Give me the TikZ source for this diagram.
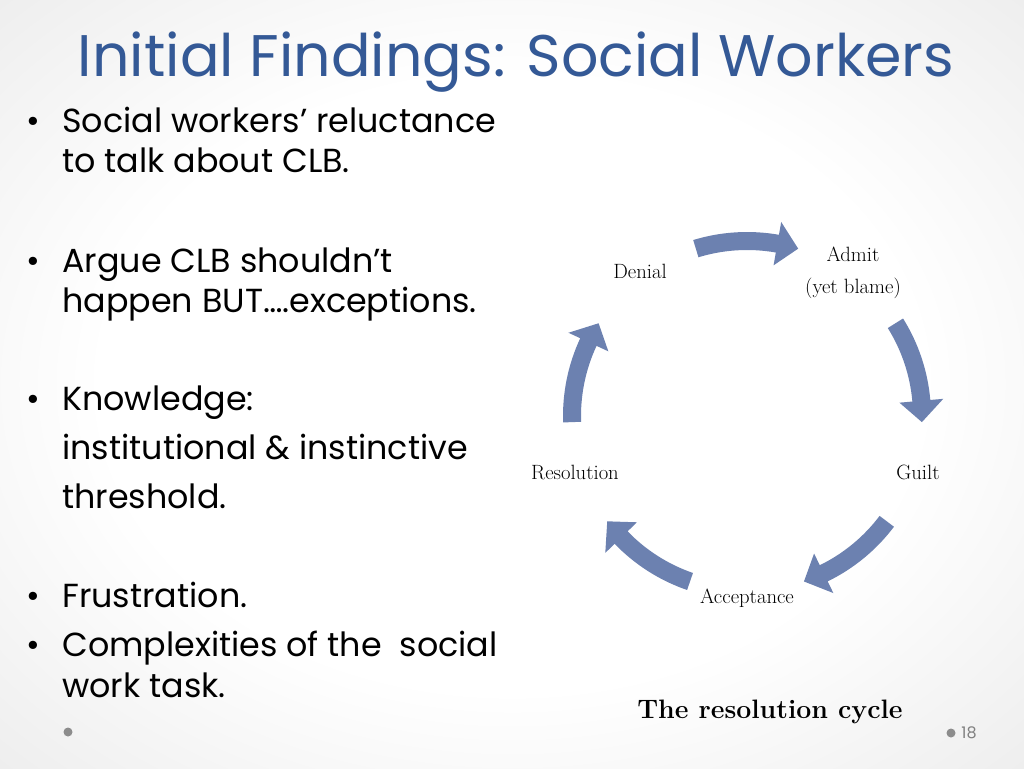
\documentclass[tikz,border=0pt]{standalone}
\usepackage{fontspec}
\newfontfamily\gothic{Poppins}
\usetikzlibrary{positioning}

\definecolor{titleblue}{RGB}{52,89,150}
\definecolor{cyclearrow}{RGB}{108,129,176}
\pgfdeclareradialshading{slideglow}{\pgfpoint{0bp}{0bp}}{color(0bp)=(white); color(20bp)=(white); color(50bp)=(black!13); color(72bp)=(black!21)}

\begin{document}
\begin{tikzpicture}[x=0.75pt,y=-0.75pt,inner sep=0pt]
  \tikzstyle{title}=[anchor=base,font=\gothic\fontsize{44}{44}\selectfont,text=titleblue]
  \tikzstyle{item}=[anchor=base west,font=\gothic\fontsize{25}{25}\selectfont]
  \tikzstyle{stage}=[font=\fontsize{15.5}{15.5}\selectfont]

  \useasboundingbox (0,0) rectangle (1024,768);
  \shade[shading=slideglow] (0,0) rectangle (1024,768);

  \node[title] (title) at (516,76) {Initial Findings: Social Workers};

  \node[item] (b1a) at (62,132) {Social workers’ reluctance};
  \node[item] (b1b) at (62,172) {to talk about CLB.};
  \node[item] (b2a) at (62,272) {Argue CLB shouldn’t};
  \node[item] (b2b) at (62,312) {happen BUT….exceptions.};
  \node[item] (b3a) at (62,410) {Knowledge:};
  \node[item] (b3b) at (62,459) {institutional \& instinctive};
  \node[item] (b3c) at (62,508) {threshold.};
  \node[item] (b4a) at (62,607) {Frustration.};
  \node[item] (b5a) at (62,656) {Complexities of the\ \ social};
  \node[item] (b5b) at (62,697) {work task.};
  \foreach \n in {b1a,b2a,b3a,b4a,b5a}
    \node[item] (dot\n) at ([xshift=-27pt]\n.base west) {•};

  % the cycle
  \coordinate (hub) at (747,416);
  \node[stage] (denial) at (640,271) {Denial};
  \node[stage] (admit)  at (853,254) {Admit};
  \node[stage] (blame)  at (853,288) {(yet blame)};
  \node[stage] (guilt)  at (918,472) {Guilt};
  \node[stage] (resol)  at (575,472) {Resolution};
  \node[stage] (accept) at (747,598) {Acceptance};

  \foreach \c in {90,15,-54,-126,165}
    \fill[cyclearrow] ([shift={(-\c-17:184)}]hub)
        arc[start angle=-\c-17,end angle=-\c+10,radius=184]
        -- ([shift={(-\c+10:197)}]hub) -- ([shift={(-\c+17:175)}]hub)
        -- ([shift={(-\c+10:153)}]hub) -- ([shift={(-\c+10:166)}]hub)
        arc[start angle=-\c+10,end angle=-\c-17,radius=166] -- cycle;

  \node[font=\bfseries\fontsize{20}{20}\selectfont] (caption) at (770,712) {The resolution cycle};

  \fill[black!45] (68,732) circle (4.5);
  \fill[black!45] (951,733) circle (4.5);
  \node[font=\gothic\fontsize{12}{12}\selectfont,text=black!50] (pageno) at (969,733) {18};
\end{tikzpicture}
\end{document}
